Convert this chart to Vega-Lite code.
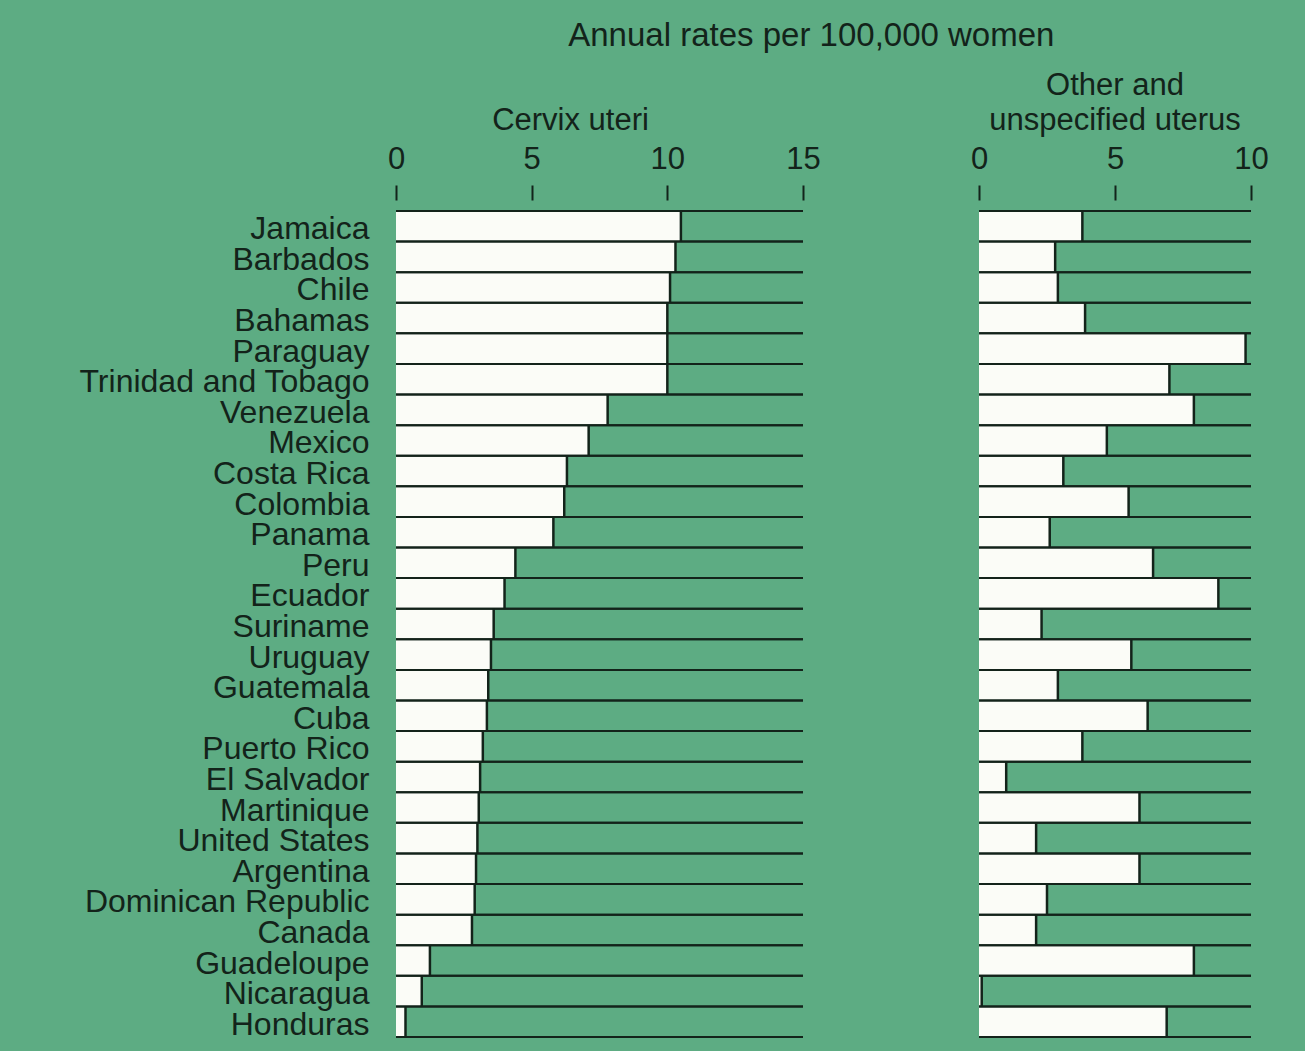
{
  "$schema": "https://vega.github.io/schema/vega-lite/v6.json",
  "background": "#5dac83",
  "padding": {"left": 78, "top": 20, "right": 40, "bottom": 10},
  "config": {
    "view": {"stroke": null},
    "font": "Liberation Sans",
    "title": {"font": "Liberation Sans", "fontWeight": "normal", "color": "#13231a"}
  },
  "title": {"text": "Annual rates per 100,000 women", "fontSize": 33, "anchor": "middle", "dx": 138, "offset": 17},
  "data": {"values": [
    {"country": "Jamaica", "cervix": 10.5, "other": 3.8},
    {"country": "Barbados", "cervix": 10.3, "other": 2.8},
    {"country": "Chile", "cervix": 10.1, "other": 2.9},
    {"country": "Bahamas", "cervix": 10.0, "other": 3.9},
    {"country": "Paraguay", "cervix": 10.0, "other": 9.8},
    {"country": "Trinidad and Tobago", "cervix": 10.0, "other": 7.0},
    {"country": "Venezuela", "cervix": 7.8, "other": 7.9},
    {"country": "Mexico", "cervix": 7.1, "other": 4.7},
    {"country": "Costa Rica", "cervix": 6.3, "other": 3.1},
    {"country": "Colombia", "cervix": 6.2, "other": 5.5},
    {"country": "Panama", "cervix": 5.8, "other": 2.6},
    {"country": "Peru", "cervix": 4.4, "other": 6.4},
    {"country": "Ecuador", "cervix": 4.0, "other": 8.8},
    {"country": "Suriname", "cervix": 3.6, "other": 2.3},
    {"country": "Uruguay", "cervix": 3.5, "other": 5.6},
    {"country": "Guatemala", "cervix": 3.4, "other": 2.9},
    {"country": "Cuba", "cervix": 3.35, "other": 6.2},
    {"country": "Puerto Rico", "cervix": 3.2, "other": 3.8},
    {"country": "El Salvador", "cervix": 3.1, "other": 1.0},
    {"country": "Martinique", "cervix": 3.05, "other": 5.9},
    {"country": "United States", "cervix": 3.0, "other": 2.1},
    {"country": "Argentina", "cervix": 2.95, "other": 5.9},
    {"country": "Dominican Republic", "cervix": 2.9, "other": 2.5},
    {"country": "Canada", "cervix": 2.8, "other": 2.1},
    {"country": "Guadeloupe", "cervix": 1.25, "other": 7.9},
    {"country": "Nicaragua", "cervix": 0.95, "other": 0.1},
    {"country": "Honduras", "cervix": 0.35, "other": 6.9}
  ]},
  "spacing": 149,
  "hconcat": [
    {
      "width": 407,
      "height": 826,
      "title": {"text": "Cervix uteri", "fontSize": 31, "dx": -29, "offset": 6},
      "encoding": {
        "y": {"field": "country", "type": "nominal", "sort": null,
          "scale": {"paddingInner": 0, "paddingOuter": 0},
          "axis": {"title": null, "domain": false, "ticks": false, "labelFontSize": 32, "labelFont": "Liberation Sans",
            "labelColor": "#13231a", "labelPadding": 27, "labelBaseline": "alphabetic", "labelOffset": 13,
            "labelLimit": 500, "labelOverlap": false}}
      },
      "layer": [
        {
          "mark": {"type": "bar", "fill": "#fbfcf7", "strokeWidth": 0},
          "encoding": {
            "x": {"field": "cervix", "type": "quantitative", "scale": {"domain": [0, 15], "nice": false},
              "axis": {"orient": "top", "values": [0, 5, 10, 15], "title": null, "domain": false, "grid": false,
                "tickSize": 15, "tickWidth": 2, "tickColor": "#13231a", "offset": 11, "labelFontSize": 31,
                "labelColor": "#13231a", "labelPadding": 10, "labelFlush": false, "labelOverlap": false}}
          }
        },
        {
          "mark": {"type": "rule", "color": "#13231a", "strokeWidth": 2},
          "encoding": {
            "x": {"datum": 0, "type": "quantitative"},
            "x2": {"datum": 15},
            "y": {"field": "country", "type": "nominal", "sort": null, "bandPosition": 0}
          }
        },
        {
          "mark": {"type": "rule", "color": "#13231a", "strokeWidth": 2},
          "encoding": {
            "x": {"datum": 0, "type": "quantitative"},
            "x2": {"datum": 15},
            "y": {"field": "country", "type": "nominal", "sort": null, "bandPosition": 1}
          }
        },
        {
          "mark": {"type": "tick", "color": "#13231a", "thickness": 2.5, "size": 30.6, "opacity": 1},
          "encoding": {
            "x": {"field": "cervix", "type": "quantitative"}
          }
        }
      ]
    },
    {
      "width": 272,
      "height": 826,
      "title": {"text": ["Other and", "unspecified uterus"], "fontSize": 31, "lineHeight": 35, "offset": 6},
      "encoding": {
        "y": {"field": "country", "type": "nominal", "sort": null,
          "scale": {"paddingInner": 0, "paddingOuter": 0}, "axis": null}
      },
      "layer": [
        {
          "mark": {"type": "bar", "fill": "#fbfcf7", "strokeWidth": 0},
          "encoding": {
            "x": {"field": "other", "type": "quantitative", "scale": {"domain": [0, 10], "nice": false},
              "axis": {"orient": "top", "values": [0, 5, 10], "title": null, "domain": false, "grid": false,
                "tickSize": 15, "tickWidth": 2, "tickColor": "#13231a", "offset": 11, "labelFontSize": 31,
                "labelColor": "#13231a", "labelPadding": 10, "labelFlush": false, "labelOverlap": false}}
          }
        },
        {
          "mark": {"type": "rule", "color": "#13231a", "strokeWidth": 2},
          "encoding": {
            "x": {"datum": 0, "type": "quantitative"},
            "x2": {"datum": 10},
            "y": {"field": "country", "type": "nominal", "sort": null, "bandPosition": 0}
          }
        },
        {
          "mark": {"type": "rule", "color": "#13231a", "strokeWidth": 2},
          "encoding": {
            "x": {"datum": 0, "type": "quantitative"},
            "x2": {"datum": 10},
            "y": {"field": "country", "type": "nominal", "sort": null, "bandPosition": 1}
          }
        },
        {
          "mark": {"type": "tick", "color": "#13231a", "thickness": 2.5, "size": 30.6, "opacity": 1},
          "encoding": {
            "x": {"field": "other", "type": "quantitative"}
          }
        }
      ]
    }
  ]
}
